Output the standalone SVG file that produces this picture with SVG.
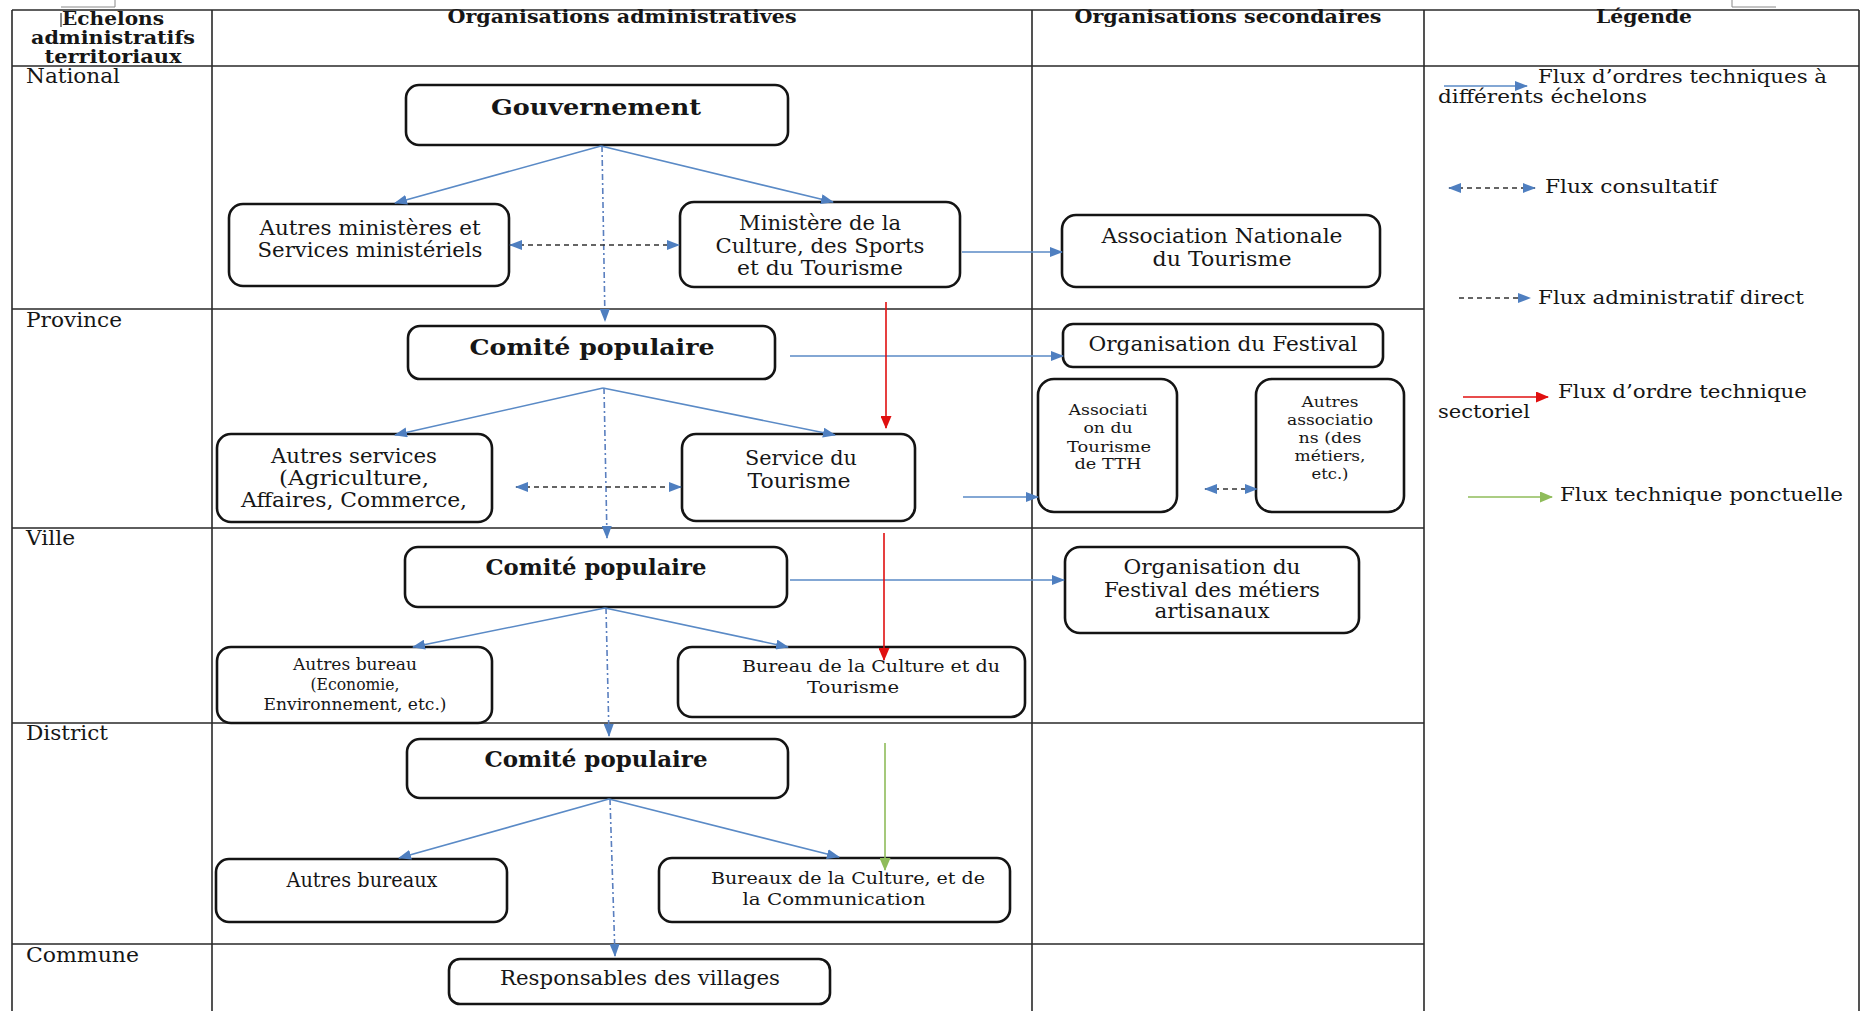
<svg xmlns="http://www.w3.org/2000/svg" width="1861" height="1011" viewBox="0 0 1861 1011">
<style>
.t{font-family:"DejaVu Serif","Liberation Serif",serif;font-size:20px;fill:#161616}
.s{font-size:15.5px}
.sm{font-size:16.5px}
.c{font-size:17px}
.lg{font-size:19px}
.h{font-weight:bold;font-size:19px}
.b{font-weight:bold;font-size:22px}
.m{text-anchor:middle}
.box{fill:#fff;stroke:#141414;stroke-width:2.6}
.grid{stroke:#2a2a2a;stroke-width:1.6;fill:none}
.art{stroke:#888;stroke-width:1;fill:none}
.blue{stroke:#5a8ac6;stroke-width:1.6;fill:none}
.adm{stroke:#5a7fbf;stroke-width:1.6;fill:none;stroke-dasharray:6 3 2 3}
.cons{stroke:#333;stroke-width:1.4;fill:none;stroke-dasharray:5 4}
.red{stroke:#e01010;stroke-width:1.6;fill:none}
.green{stroke:#8fbc5a;stroke-width:1.6;fill:none}
</style>
<defs>
<marker id="ab" markerUnits="userSpaceOnUse" markerWidth="13" markerHeight="10" refX="12" refY="5" orient="auto-start-reverse"><path d="M0,0 L13,5 L0,10 z" fill="#4f7fc0"/></marker>
<marker id="ar" markerUnits="userSpaceOnUse" markerWidth="13" markerHeight="11" refX="12" refY="5.5" orient="auto"><path d="M0,0 L13,5.5 L0,11 z" fill="#e01010"/></marker>
<marker id="ag" markerUnits="userSpaceOnUse" markerWidth="13" markerHeight="11" refX="12" refY="5.5" orient="auto"><path d="M0,0 L13,5.5 L0,11 z" fill="#8fbc5a"/></marker>
</defs>
<rect width="1861" height="1011" fill="#fff"/>

<g id="table">
<path class="art" d="M61,7 H115 V0 M1732,0 V7 H1776"/>
<path d="M61,13 V27" stroke="#111" stroke-width="1"/>
<path class="grid" d="M12,10 H1859 M12,66 H1859 M12,309 H1424 M12,528 H1424 M12,723 H1424 M12,944 H1424 M12,10 V1011 M212,10 V1011 M1032,10 V1011 M1424,10 V1011 M1859,10 V1011"/>
<text class="t h m" x="113" y="25" textLength="102" lengthAdjust="spacingAndGlyphs">Echelons</text>
<text class="t h m" x="113" y="44" textLength="164" lengthAdjust="spacingAndGlyphs">administratifs</text>
<text class="t h m" x="113" y="63" textLength="137" lengthAdjust="spacingAndGlyphs">territoriaux</text>
<text class="t h m" x="622" y="23" textLength="349" lengthAdjust="spacingAndGlyphs">Organisations administratives</text>
<text class="t h m" x="1228" y="23" textLength="307" lengthAdjust="spacingAndGlyphs">Organisations secondaires</text>
<text class="t h m" x="1644" y="23" textLength="96" lengthAdjust="spacingAndGlyphs">Légende</text>
<text class="t" x="26" y="83" textLength="94" lengthAdjust="spacingAndGlyphs">National</text>
<text class="t" x="26" y="327" textLength="96" lengthAdjust="spacingAndGlyphs">Province</text>
<text class="t" x="26" y="545" textLength="49" lengthAdjust="spacingAndGlyphs">Ville</text>
<text class="t" x="26" y="740" textLength="82" lengthAdjust="spacingAndGlyphs">District</text>
<text class="t" x="26" y="962" textLength="113" lengthAdjust="spacingAndGlyphs">Commune</text>
</g>

<g id="gouvernement">
<rect class="box" x="406" y="85" width="382" height="60" rx="13"/>
<text class="t b m" x="596" y="115" textLength="210" lengthAdjust="spacingAndGlyphs">Gouvernement</text>
</g>
<g id="autres-ministeres">
<rect class="box" x="229" y="204" width="280" height="82" rx="14"/>
<text class="t m" x="370" y="235" textLength="221" lengthAdjust="spacingAndGlyphs">Autres ministères et</text>
<text class="t m" x="370" y="257" textLength="225" lengthAdjust="spacingAndGlyphs">Services ministériels</text>
</g>
<g id="ministere-culture">
<rect class="box" x="680" y="202" width="280" height="85" rx="14"/>
<text class="t m" x="820" y="230" textLength="162" lengthAdjust="spacingAndGlyphs">Ministère de la</text>
<text class="t m" x="820" y="253" textLength="209" lengthAdjust="spacingAndGlyphs">Culture, des Sports</text>
<text class="t m" x="820" y="275" textLength="166" lengthAdjust="spacingAndGlyphs">et du Tourisme</text>
</g>
<g id="association-nationale">
<rect class="box" x="1062" y="215" width="318" height="72" rx="14"/>
<text class="t m" x="1222" y="243" textLength="241" lengthAdjust="spacingAndGlyphs">Association Nationale</text>
<text class="t m" x="1222" y="266" textLength="139" lengthAdjust="spacingAndGlyphs">du Tourisme</text>
</g>

<g id="comite-province">
<rect class="box" x="408" y="326" width="367" height="53" rx="12"/>
<text class="t b m" x="592" y="355" textLength="245" lengthAdjust="spacingAndGlyphs">Comité populaire</text>
</g>
<g id="autres-services">
<rect class="box" x="217" y="434" width="275" height="88" rx="14"/>
<text class="t m" x="354" y="463" textLength="166" lengthAdjust="spacingAndGlyphs">Autres services</text>
<text class="t m" x="354" y="485" textLength="150" lengthAdjust="spacingAndGlyphs">(Agriculture,</text>
<text class="t m" x="354" y="507" textLength="226" lengthAdjust="spacingAndGlyphs">Affaires, Commerce,</text>
</g>
<g id="service-tourisme">
<rect class="box" x="682" y="434" width="233" height="87" rx="14"/>
<text class="t m" x="801" y="465" textLength="112" lengthAdjust="spacingAndGlyphs">Service du</text>
<text class="t m" x="799" y="488" textLength="103" lengthAdjust="spacingAndGlyphs">Tourisme</text>
</g>
<g id="organisation-festival">
<rect class="box" x="1063" y="324" width="320" height="43" rx="10"/>
<text class="t m" x="1223" y="351" textLength="269" lengthAdjust="spacingAndGlyphs">Organisation du Festival</text>
</g>
<g id="association-tth">
<rect class="box" x="1038" y="379" width="139" height="133" rx="16"/>
<text class="t s m" x="1108" y="415" textLength="79" lengthAdjust="spacingAndGlyphs">Associati</text>
<text class="t s m" x="1108" y="433" textLength="49" lengthAdjust="spacingAndGlyphs">on du</text>
<text class="t s m" x="1109" y="452" textLength="84" lengthAdjust="spacingAndGlyphs">Tourisme</text>
<text class="t s m" x="1108" y="469" textLength="67" lengthAdjust="spacingAndGlyphs">de TTH</text>
</g>
<g id="autres-associations">
<rect class="box" x="1256" y="379" width="148" height="133" rx="16"/>
<text class="t s m" x="1330" y="407" textLength="57" lengthAdjust="spacingAndGlyphs">Autres</text>
<text class="t s m" x="1330" y="425" textLength="86" lengthAdjust="spacingAndGlyphs">associatio</text>
<text class="t s m" x="1330" y="443" textLength="63" lengthAdjust="spacingAndGlyphs">ns (des</text>
<text class="t s m" x="1330" y="461" textLength="71" lengthAdjust="spacingAndGlyphs">métiers,</text>
<text class="t s m" x="1330" y="479" textLength="37" lengthAdjust="spacingAndGlyphs">etc.)</text>
</g>

<g id="comite-ville">
<rect class="box" x="405" y="547" width="382" height="60" rx="13"/>
<text class="t b m" x="596" y="575" textLength="221" lengthAdjust="spacingAndGlyphs">Comité populaire</text>
</g>
<g id="autres-bureau">
<rect class="box" x="217" y="647" width="275" height="76" rx="14"/>
<text class="t sm m" x="355" y="670" textLength="124" lengthAdjust="spacingAndGlyphs">Autres bureau</text>
<text class="t sm m" x="355" y="690" textLength="89" lengthAdjust="spacingAndGlyphs">(Economie,</text>
<text class="t sm m" x="355" y="710" textLength="183" lengthAdjust="spacingAndGlyphs">Environnement, etc.)</text>
</g>
<g id="bureau-culture-tourisme">
<rect class="box" x="678" y="647" width="347" height="70" rx="14"/>
<text class="t c m" x="871" y="672" textLength="258" lengthAdjust="spacingAndGlyphs">Bureau de la Culture et du</text>
<text class="t c m" x="853" y="693" textLength="92" lengthAdjust="spacingAndGlyphs">Tourisme</text>
</g>
<g id="festival-metiers">
<rect class="box" x="1065" y="547" width="294" height="86" rx="15"/>
<text class="t m" x="1212" y="574" textLength="177" lengthAdjust="spacingAndGlyphs">Organisation du</text>
<text class="t m" x="1212" y="597" textLength="216" lengthAdjust="spacingAndGlyphs">Festival des métiers</text>
<text class="t m" x="1212" y="618" textLength="115" lengthAdjust="spacingAndGlyphs">artisanaux</text>
</g>

<g id="comite-district">
<rect class="box" x="407" y="739" width="381" height="59" rx="13"/>
<text class="t b m" x="596" y="767" textLength="223" lengthAdjust="spacingAndGlyphs">Comité populaire</text>
</g>
<g id="autres-bureaux">
<rect class="box" x="216" y="859" width="291" height="63" rx="13"/>
<text class="t m" x="362" y="887" textLength="151" lengthAdjust="spacingAndGlyphs">Autres bureaux</text>
</g>
<g id="bureaux-culture-communication">
<rect class="box" x="659" y="858" width="351" height="64" rx="13"/>
<text class="t c m" x="848" y="884" textLength="274" lengthAdjust="spacingAndGlyphs">Bureaux de la Culture, et de</text>
<text class="t c m" x="834" y="905" textLength="183" lengthAdjust="spacingAndGlyphs">la Communication</text>
</g>
<g id="responsables-villages">
<rect class="box" x="449" y="959" width="381" height="45" rx="11"/>
<text class="t m" x="640" y="985" textLength="280" lengthAdjust="spacingAndGlyphs">Responsables des villages</text>
</g>

<g id="connectors">
<path class="adm" d="M602,146 L605,321" marker-end="url(#ab)"/>
<path class="adm" d="M604,388 L607,538" marker-end="url(#ab)"/>
<path class="adm" d="M606,608 L609,736" marker-end="url(#ab)"/>
<path class="adm" d="M610,799 L615,956" marker-end="url(#ab)"/>
<path class="blue" d="M601,146 L395,203" marker-end="url(#ab)"/>
<path class="blue" d="M601,146 L833,202" marker-end="url(#ab)"/>
<path class="blue" d="M603,388 L395,435" marker-end="url(#ab)"/>
<path class="blue" d="M603,388 L835,435" marker-end="url(#ab)"/>
<path class="blue" d="M605,608 L413,647" marker-end="url(#ab)"/>
<path class="blue" d="M605,608 L788,647" marker-end="url(#ab)"/>
<path class="blue" d="M609,799 L399,858" marker-end="url(#ab)"/>
<path class="blue" d="M609,799 L839,857" marker-end="url(#ab)"/>
<path class="blue" d="M962,252 H1062" marker-end="url(#ab)"/>
<path class="blue" d="M790,356 H1063" marker-end="url(#ab)"/>
<path class="blue" d="M963,497 H1038" marker-end="url(#ab)"/>
<path class="blue" d="M790,580 H1064" marker-end="url(#ab)"/>
<path class="cons" d="M510,245 H679" marker-start="url(#ab)" marker-end="url(#ab)"/>
<path class="cons" d="M516,487 H681" marker-start="url(#ab)" marker-end="url(#ab)"/>
<path class="cons" d="M1205,489 H1257" marker-start="url(#ab)" marker-end="url(#ab)"/>
<path class="red" d="M886,302 V428" marker-end="url(#ar)"/>
<path class="red" d="M884,533 V660" marker-end="url(#ar)"/>
<path class="green" d="M885,743 V870" marker-end="url(#ag)"/>
</g>

<g id="legende">
<path class="blue" d="M1444,86 H1527" marker-end="url(#ab)"/>
<text class="t lg" x="1538" y="83" textLength="289" lengthAdjust="spacingAndGlyphs">Flux d’ordres techniques à</text>
<text class="t lg" x="1438" y="103" textLength="209" lengthAdjust="spacingAndGlyphs">différents échelons</text>
<path class="cons" d="M1449,188 H1535" marker-start="url(#ab)" marker-end="url(#ab)"/>
<text class="t lg" x="1545" y="193" textLength="172" lengthAdjust="spacingAndGlyphs">Flux consultatif</text>
<path class="cons" d="M1459,298 H1530" marker-end="url(#ab)"/>
<text class="t lg" x="1538" y="304" textLength="266" lengthAdjust="spacingAndGlyphs">Flux administratif direct</text>
<path class="red" d="M1463,397 H1548" marker-end="url(#ar)"/>
<text class="t lg" x="1558" y="398" textLength="249" lengthAdjust="spacingAndGlyphs">Flux d’ordre technique</text>
<text class="t lg" x="1438" y="418" textLength="92" lengthAdjust="spacingAndGlyphs">sectoriel</text>
<path class="green" d="M1468,497 H1552" marker-end="url(#ag)"/>
<text class="t lg" x="1560" y="501" textLength="283" lengthAdjust="spacingAndGlyphs">Flux technique ponctuelle</text>
</g>
</svg>
